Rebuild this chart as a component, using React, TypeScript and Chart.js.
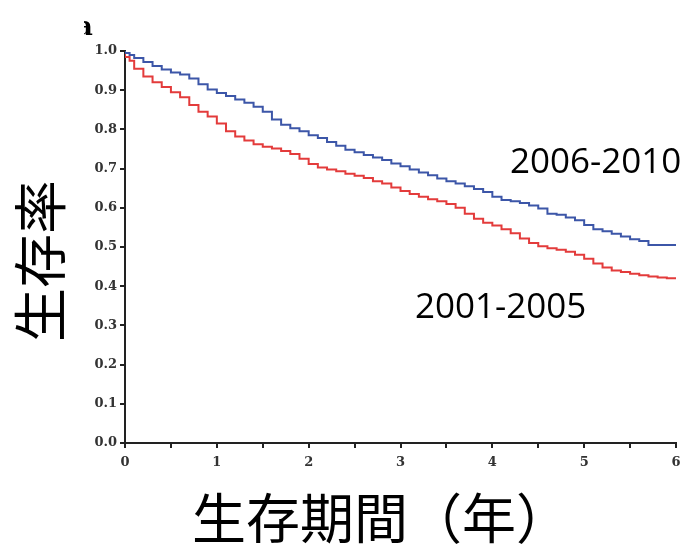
import React, { useEffect, useRef } from "react";
import { Chart, registerables } from "chart.js";

Chart.register(...registerables);

// Kaplan-Meier curve for 2006-2010 (blue)
const timesRecent = [0, 0.05, 0.1, 0.2, 0.3, 0.4, 0.5, 0.6, 0.7, 0.8, 0.9, 1.0, 1.1, 1.2, 1.3, 1.4, 1.5, 1.6, 1.7, 1.8, 1.9, 2.0, 2.1, 2.2, 2.3, 2.4, 2.5, 2.6, 2.7, 2.8, 2.9, 3.0, 3.1, 3.2, 3.3, 3.4, 3.5, 3.6, 3.7, 3.8, 3.9, 4.0, 4.1, 4.2, 4.3, 4.4, 4.5, 4.6, 4.7, 4.8, 4.9, 5.0, 5.1, 5.2, 5.3, 5.4, 5.5, 5.6, 5.7, 5.75, 6.0];
const survivalRecent = [1.0, 0.995, 0.99, 0.982, 0.972, 0.962, 0.953, 0.945, 0.94, 0.93, 0.915, 0.902, 0.893, 0.885, 0.876, 0.868, 0.858, 0.845, 0.825, 0.812, 0.803, 0.795, 0.785, 0.778, 0.768, 0.758, 0.748, 0.742, 0.735, 0.728, 0.722, 0.713, 0.706, 0.698, 0.69, 0.683, 0.675, 0.668, 0.662, 0.655, 0.648, 0.64, 0.628, 0.62, 0.617, 0.612, 0.606, 0.598, 0.585, 0.582, 0.575, 0.568, 0.556, 0.545, 0.54, 0.534, 0.527, 0.52, 0.515, 0.505, 0.505];

// Kaplan-Meier curve for 2001-2005 (red)
const timesEarly = [0, 0.05, 0.1, 0.2, 0.3, 0.4, 0.5, 0.6, 0.7, 0.8, 0.9, 1.0, 1.1, 1.2, 1.3, 1.4, 1.5, 1.6, 1.7, 1.8, 1.9, 2.0, 2.1, 2.2, 2.3, 2.4, 2.5, 2.6, 2.7, 2.8, 2.9, 3.0, 3.1, 3.2, 3.3, 3.4, 3.5, 3.6, 3.7, 3.8, 3.9, 4.0, 4.1, 4.2, 4.3, 4.4, 4.5, 4.6, 4.7, 4.8, 4.9, 5.0, 5.1, 5.2, 5.3, 5.4, 5.5, 5.6, 5.7, 5.8, 5.9, 6.0];
const survivalEarly = [1.0, 0.985, 0.975, 0.955, 0.935, 0.92, 0.908, 0.895, 0.882, 0.862, 0.845, 0.833, 0.815, 0.795, 0.782, 0.772, 0.762, 0.756, 0.751, 0.745, 0.737, 0.725, 0.712, 0.703, 0.698, 0.693, 0.687, 0.682, 0.676, 0.668, 0.662, 0.652, 0.643, 0.635, 0.628, 0.622, 0.617, 0.61, 0.6, 0.585, 0.572, 0.562, 0.555, 0.545, 0.535, 0.522, 0.51, 0.502, 0.497, 0.493, 0.488, 0.48, 0.47, 0.458, 0.448, 0.44, 0.436, 0.432, 0.428, 0.425, 0.422, 0.42];

const seriesLabels = ["2006-2010", "2001-2005"];
const xTitle = "生存期間（年）";
const yTitle = "生存率";

const textPlugin = {
  id: "textPlugin",
  afterDraw(chart: any) {
    const ctx = chart.ctx;
    ctx.save();
    ctx.fillStyle = "#000";
    // panel letter, clipped
    ctx.save();
    ctx.beginPath();
    ctx.rect(84, 0, 30, 40);
    ctx.clip();
    ctx.font = "bold 26px 'DejaVu Serif'";
    ctx.textAlign = "left";
    ctx.textBaseline = "alphabetic";
    ctx.fillText("a", 76, 35);
    ctx.restore();

    // series labels
    ctx.font = "35px 'Open Sans'";
    ctx.textAlign = "left";
    ctx.textBaseline = "alphabetic";
    ctx.fillText(seriesLabels[0], 510, 173);
    ctx.fillText(seriesLabels[1], 415, 318);

    // x title
    ctx.font = "54px 'Noto Sans CJK JP'";
    ctx.textAlign = "center";
    ctx.textBaseline = "middle";
    ctx.fillText(xTitle, 192 + (54 * 7) / 2, 518);

    // y title
    ctx.save();
    ctx.translate(40, 261);
    ctx.rotate(-Math.PI / 2);
    ctx.fillText(yTitle, 0, 0);
    ctx.restore();
    ctx.restore();
  },
};

export default function App() {
  const ref = useRef<HTMLCanvasElement>(null);
  useEffect(() => {
    if (!ref.current) return;
    const tickFont = { family: "'DejaVu Serif'", size: 13, weight: "bold" as const };
    const chart = new Chart(ref.current, {
      type: "line",
      data: {
        datasets: [
          {
            label: seriesLabels[0],
            data: timesRecent.map((t, i) => ({ x: t, y: survivalRecent[i] })),
            borderColor: "#3c56a8",
            borderWidth: 2,
            pointRadius: 0,
            stepped: "after",
            fill: false,
          },
          {
            label: seriesLabels[1],
            data: timesEarly.map((t, i) => ({ x: t, y: survivalEarly[i] })),
            borderColor: "#e33b3b",
            borderWidth: 2,
            pointRadius: 0,
            stepped: "after",
            fill: false,
          },
        ],
      },
      options: {
        animation: false,
        responsive: false,
        devicePixelRatio: 1,
        layout: { padding: { left: 0, right: 5, top: 51, bottom: 71 } },
        plugins: { legend: { display: false }, tooltip: { enabled: false } },
        scales: {
          x: {
            type: "linear",
            min: 0,
            max: 6,
            border: { display: true, color: "#222", width: 2 },
            grid: { display: true, drawOnChartArea: false, drawTicks: true, tickLength: 5, color: "#222", lineWidth: 2 },
            ticks: {
              stepSize: 0.5,
              autoSkip: false,
              maxRotation: 0,
              padding: 7,
              color: "#333",
              font: tickFont,
              callback: (v: any) => (Number.isInteger(v) ? String(v) : ""),
            },
            afterFit: (s: any) => {
              s.height = 30;
              s.paddingLeft = 0;
              s.paddingRight = 0;
            },
          },
          y: {
            min: 0,
            max: 1,
            border: { display: true, color: "#222", width: 2 },
            grid: { display: true, drawOnChartArea: false, drawTicks: true, tickLength: 5, color: "#222", lineWidth: 2 },
            ticks: {
              stepSize: 0.1,
              padding: 3,
              color: "#333",
              font: tickFont,
              callback: (v: any) => Number(v).toFixed(1),
            },
            afterFit: (s: any) => {
              s.width = 125;
              s.paddingTop = 0;
              s.paddingBottom = 0;
            },
          },
        },
      },
      plugins: [textPlugin],
    });
    return () => chart.destroy();
  }, []);
  return (
    <div style={{ position: "absolute", left: 0, top: 0, width: 681, height: 544, background: "#fff" }}>
      <canvas ref={ref} width={681} height={544} style={{ width: 681, height: 544 }} />
    </div>
  );
}
